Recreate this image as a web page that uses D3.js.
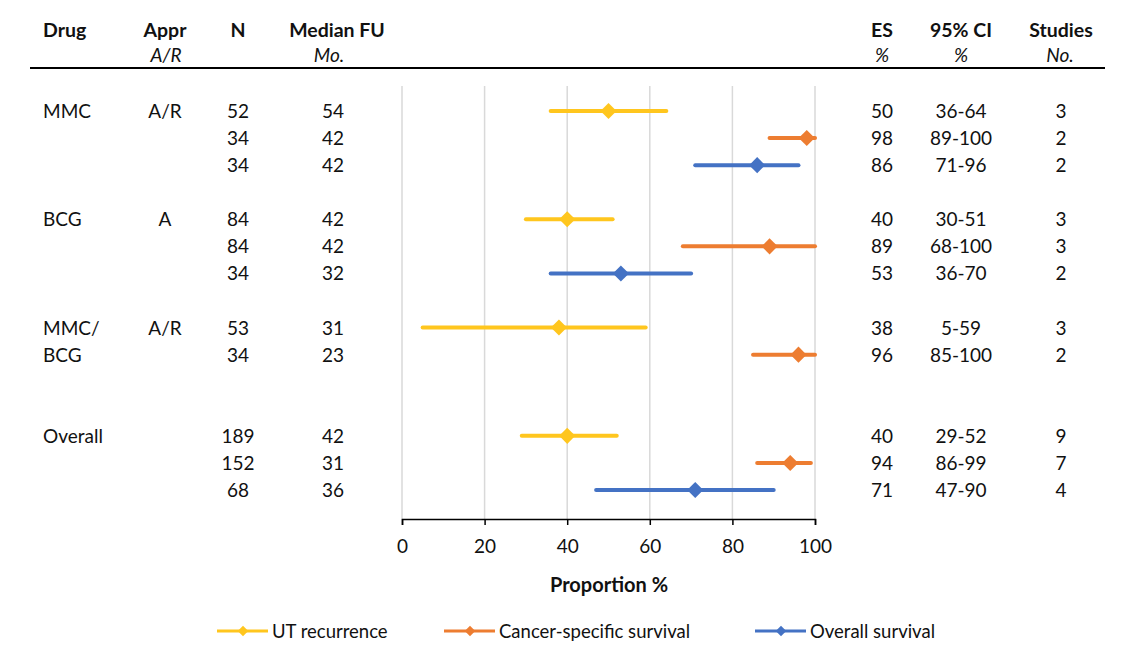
<!DOCTYPE html>
<html lang="en">
<head>
<meta charset="utf-8">
<script src="https://d3js.org/d3.v7.min.js"></script>
<style>
  body { margin: 0; background: #fff; }
  text { font-family: Lato, "Open Sans", sans-serif; fill: #111; }
</style>
</head>
<body>
<script>
// one entry per table row; slot = row position (gaps between drug groups)
var slots    = [0, 1, 2, 4, 5, 6, 8, 9, 12, 13, 14];
var drugs    = ["MMC", "", "", "BCG", "", "", "MMC/", "BCG", "Overall", "", ""];
var approval = ["A/R", "", "", "A", "", "", "A/R", "", "", "", ""];
var nPat     = [52, 34, 34, 84, 84, 34, 53, 34, 189, 152, 68];
var medFU    = [54, 42, 42, 42, 42, 32, 31, 23, 42, 31, 36];
var outcome  = [0, 1, 2, 0, 1, 2, 0, 1, 0, 1, 2];
var es       = [50, 98, 86, 40, 89, 53, 38, 96, 40, 94, 71];
var ciLow    = [36, 89, 71, 30, 68, 36, 5, 85, 29, 86, 47];
var ciHigh   = [64, 100, 96, 51, 100, 70, 59, 100, 52, 99, 90];
var studies  = [3, 2, 2, 3, 3, 2, 3, 2, 9, 7, 4];

var seriesNames  = ["UT recurrence", "Cancer-specific survival", "Overall survival"];
var seriesColors = ["#FFC61E", "#ED7D31", "#4472C4"];
var xTicks = [0, 20, 40, 60, 80, 100];

var W = 1136, H = 652;
var svg = d3.select("body").append("svg").attr("width", W).attr("height", H);

var x = d3.scaleLinear().domain([0, 100]).range([402, 815]);
var y = d3.scaleLinear().domain([0, 14]).range([111, 490]);
var plotTop = 86, plotBottom = 519;

// gridlines
svg.selectAll(".grid").data(xTicks).enter().append("line")
    .attr("x1", d => x(d)).attr("x2", d => x(d))
    .attr("y1", plotTop).attr("y2", plotBottom)
    .attr("stroke", "#d9d9d9").attr("stroke-width", 1.5);

// axis
var axis = svg.append("g").attr("transform", "translate(0," + plotBottom + ")")
    .call(d3.axisBottom(x).tickValues(xTicks).tickSize(6).tickPadding(15));
axis.select(".domain").attr("stroke", "#000").attr("stroke-width", 1.5);
axis.selectAll(".tick line").attr("stroke", "#000").attr("stroke-width", 1.5);
axis.selectAll(".tick text").style("font-size", "19px").attr("fill", "#111")
    .style("font-family", "Lato, 'Open Sans', sans-serif");

svg.append("text").attr("x", 609).attr("y", 592).attr("text-anchor", "middle")
    .style("font-size", "20px").style("font-weight", "bold").text("Proportion %");

// header
var headers = [
  {t: "Drug", sub: "", x: 43, sx: 43, a: "start"},
  {t: "Appr", sub: "A/R", x: 165, sx: 166, a: "middle"},
  {t: "N", sub: "", x: 238, sx: 238, a: "middle"},
  {t: "Median FU", sub: "Mo.", x: 337, sx: 329, a: "middle"},
  {t: "ES", sub: "%", x: 882, sx: 882, a: "middle"},
  {t: "95% CI", sub: "%", x: 961, sx: 961, a: "middle"},
  {t: "Studies", sub: "No.", x: 1061, sx: 1060, a: "middle"}
];
svg.selectAll(".hd").data(headers).enter().append("text")
    .attr("x", d => d.x).attr("y", 37).attr("text-anchor", d => d.a)
    .style("font-size", "19.5px").style("font-weight", "bold").text(d => d.t);
svg.selectAll(".sub").data(headers).enter().append("text")
    .attr("x", d => d.sx).attr("y", 62).attr("text-anchor", d => d.a)
    .style("font-size", "19px").style("font-style", "italic").text(d => d.sub);
svg.append("line").attr("x1", 30).attr("x2", 1105).attr("y1", 68).attr("y2", 68)
    .attr("stroke", "#000").attr("stroke-width", 2);

// table cells
var cols = [
  {vals: drugs, x: 43, a: "start"},
  {vals: approval, x: 165, a: "middle"},
  {vals: nPat, x: 238, a: "middle"},
  {vals: medFU, x: 333, a: "middle"},
  {vals: es, x: 882, a: "middle"},
  {vals: ciLow.map((l, i) => l + "-" + ciHigh[i]), x: 961, a: "middle"},
  {vals: studies, x: 1061, a: "middle"}
];
cols.forEach(function(c) {
  svg.append("g").selectAll("text").data(c.vals).enter().append("text")
      .attr("x", c.x).attr("y", (d, i) => y(slots[i]) + 7)
      .attr("text-anchor", c.a).style("font-size", "19px").text(d => d);
});

// CI lines and diamonds
var rows = slots.map((s, i) => ({s: s, o: outcome[i], es: es[i], lo: ciLow[i], hi: ciHigh[i]}));
var marks = svg.append("g");
marks.selectAll("line").data(rows).enter().append("line")
    .attr("x1", d => x(d.lo)).attr("x2", d => x(d.hi))
    .attr("y1", d => y(d.s)).attr("y2", d => y(d.s))
    .attr("stroke", d => seriesColors[d.o]).attr("stroke-width", 4)
    .attr("stroke-linecap", "round");
var diamond = d3.symbol().type(d3.symbolDiamond2).size(165);
marks.selectAll("path").data(rows).enter().append("path")
    .attr("d", diamond)
    .attr("transform", d => "translate(" + x(d.es) + "," + y(d.s) + ")")
    .attr("fill", d => seriesColors[d.o]);

// legend
var legX = [217, 444, 755];
var leg = svg.selectAll(".leg").data(seriesNames).enter().append("g")
    .attr("transform", (d, i) => "translate(" + legX[i] + ",631)");
leg.append("line").attr("x1", 0).attr("x2", 51)
    .attr("stroke", (d, i) => seriesColors[i]).attr("stroke-width", 3);
leg.append("path").attr("d", d3.symbol().type(d3.symbolDiamond2).size(70))
    .attr("transform", "translate(26,0)").attr("fill", (d, i) => seriesColors[i]);
leg.append("text").attr("x", 55).attr("y", 6.5).style("font-size", "18.5px").text(d => d);
</script>
</body>
</html>
